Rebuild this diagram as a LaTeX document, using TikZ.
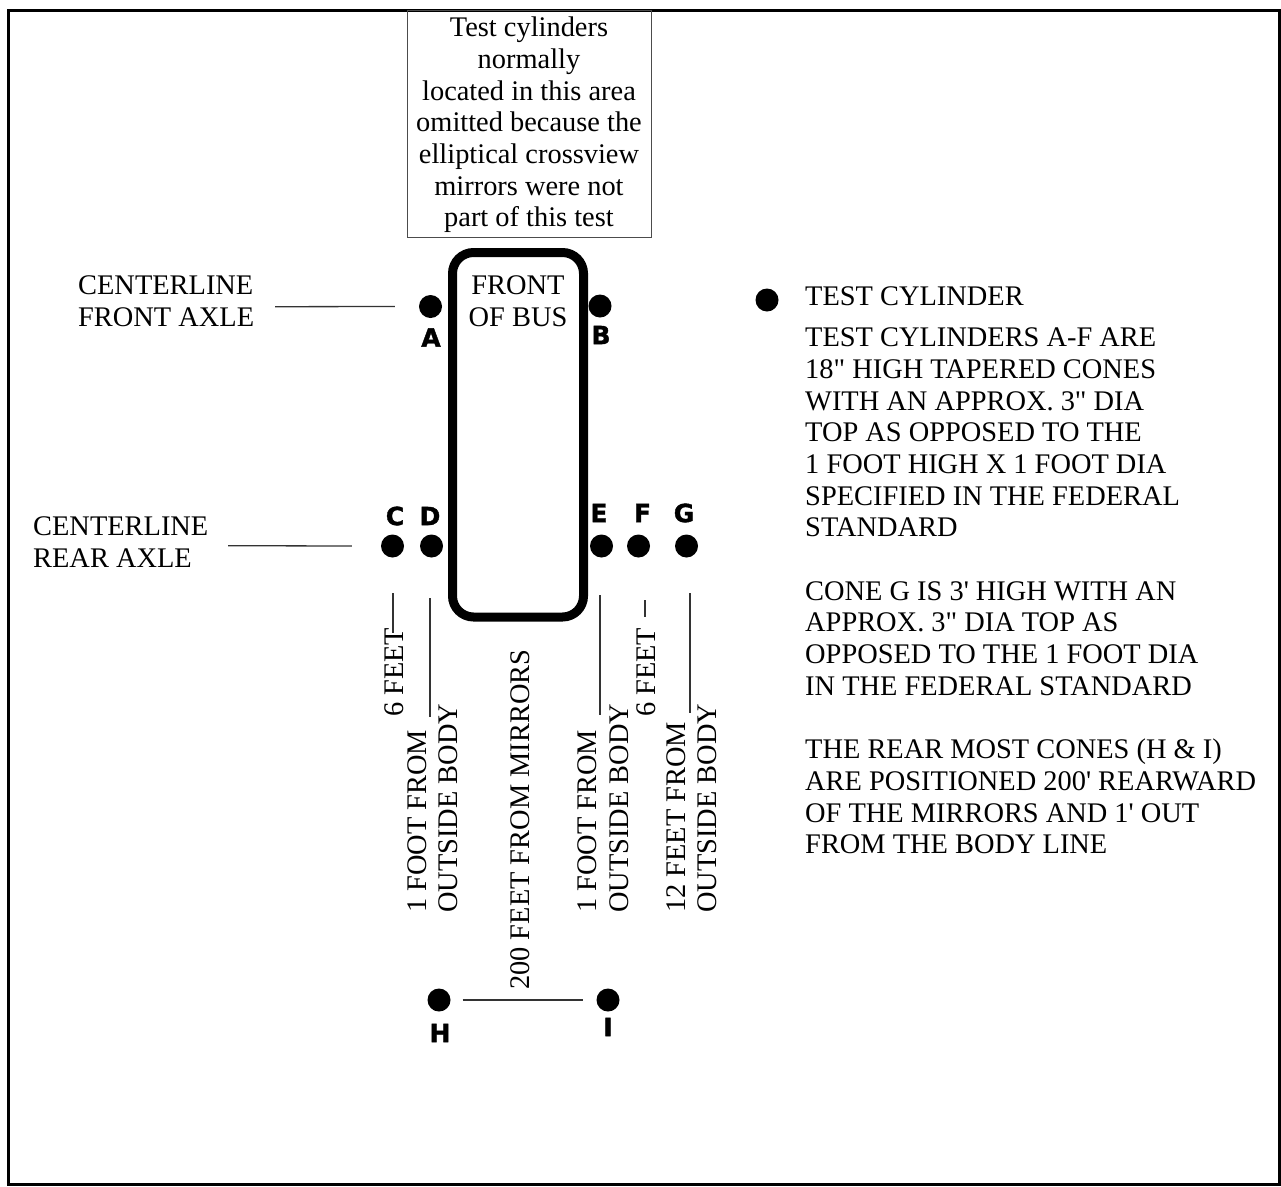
\documentclass[tikz,border=0pt]{standalone}
\usepackage{fontspec}
\setmainfont{Liberation Serif}
\newfontfamily\labfont[BoldFeatures={FakeBold=1.5}]{DejaVu Sans}
\begin{document}
\begin{tikzpicture}[x=1pt,y=-1pt,
  txt/.style={font=\fontsize{28.4}{31.7}\selectfont, inner sep=0pt},
  dot/.style={circle, fill=black, inner sep=0pt, minimum size=23pt},
  lab/.style={font=\labfont\bfseries\fontsize{25}{25}\selectfont, inner sep=0pt},
  thinline/.style={draw=black!80, line width=1.3pt},
  rot/.style={txt, rotate=90, anchor=base west}]
\useasboundingbox (0,0) rectangle (1281,1186);
% outer frame
\draw[line width=3pt] (8.5,10.5) rectangle (1279.5,1184);
% note box
\node[draw=black!70, line width=1pt, minimum width=244pt, minimum height=227pt,
      inner sep=0pt, anchor=north west] (note) at (407,10) {};
\node[txt, align=center] (notetext) at (529,125) {Test cylinders\\normally\\located in this area\\omitted because the\\elliptical crossview\\mirrors were not\\part of this test};
% bus
\node[draw, line width=9pt, rounded corners=21pt, minimum width=131pt,
      minimum height=364.5pt, inner sep=0pt] (bus) at (518,434.75) {};
\node[txt, align=center, anchor=north] (bustext) at (518,275.6) {FRONT\\OF BUS};
% cylinders
\node[dot] (A) at (430.5,306.5) {};
\node[dot] (B) at (600,306) {};
\node[dot] (C) at (392.5,546) {};
\node[dot] (D) at (431.5,546) {};
\node[dot] (E) at (601.5,546) {};
\node[dot] (F) at (638.5,546) {};
\node[dot] (G) at (686.5,546) {};
\node[dot] (H) at (439,1000) {};
\node[dot] (I) at (608,1000) {};
\node[lab] (lA) at (431,337.5) {A};
\node[lab] (lB) at (601,335) {B};
\node[lab] (lC) at (395,516) {C};
\node[lab] (lD) at (430,516) {D};
\node[lab] (lE) at (599,513) {E};
\node[lab] (lF) at (642.5,513) {F};
\node[lab] (lG) at (684,513) {G};
\node[lab] (lH) at (440,1033) {H};
\node[lab] (lI) at (608,1027) {I};
% axle labels
\node[txt, align=left, anchor=north west] (cfa) at (78,275.6) {CENTERLINE\\FRONT AXLE};
\node[txt, align=left, anchor=north west] (cra) at (33,516.6) {CENTERLINE\\REAR AXLE};
\coordinate (fa) at (275,306.7);
\coordinate (ra) at (228,545.7);
\draw[thinline] (fa) -- ([xshift=-24pt]A.west);
\draw[thinline] (ra) -- ([xshift=-29pt]C.west);
% dimension lines
\coordinate (c1) at (393,593); \coordinate (c2) at (393,633);
\coordinate (d1) at (430,598); \coordinate (d2) at (430,717);
\coordinate (e1) at (600,595); \coordinate (e2) at (600,715);
\coordinate (f1) at (645,600); \coordinate (f2) at (645,617);
\coordinate (g1) at (690,593); \coordinate (g2) at (690,713);
\draw[thinline] (c1) -- (c2);
\draw[thinline] (d1) -- (d2);
\draw[thinline] (e1) -- (e2);
\draw[thinline] (f1) -- (f2);
\draw[thinline] (g1) -- (g2);
\draw[thinline] ([xshift=12pt]H.east) -- ([xshift=-13pt]I.west);
% rotated labels
\node[rot] (t6l) at (403,717) {6 FEET};
\node[rot] (t1a) at (426,913) {1 FOOT FROM};
\node[rot] (t1b) at (457,913) {OUTSIDE BODY};
\node[rot] (t200) at (529,990) {200 FEET FROM MIRRORS};
\node[rot] (t1c) at (596,913) {1 FOOT FROM};
\node[rot] (t1d) at (628,913) {OUTSIDE BODY};
\node[rot] (t6r) at (655,717) {6 FEET};
\node[rot] (t12a) at (685,913) {12 FEET FROM};
\node[rot] (t12b) at (716,913) {OUTSIDE BODY};
% legend and notes
\node[dot] (key) at (767,300) {};
\node[txt, anchor=north west] (keytext) at (805,286.6) {TEST CYLINDER};
\node[txt, align=left, anchor=north west] (notes) at (805,327.6) {TEST CYLINDERS A-F ARE\\18\textquotedbl{} HIGH TAPERED CONES\\WITH AN APPROX. 3\textquotedbl{} DIA\\TOP AS OPPOSED TO THE\\1 FOOT HIGH X 1 FOOT DIA\\SPECIFIED IN THE FEDERAL\\STANDARD\\[31.7pt]CONE G IS 3\textquotesingle{} HIGH WITH AN\\APPROX. 3\textquotedbl{} DIA TOP AS\\OPPOSED TO THE 1 FOOT DIA\\IN THE FEDERAL STANDARD\\[31.7pt]THE REAR MOST CONES (H \& I)\\ARE POSITIONED 200\textquotesingle{} REARWARD\\OF THE MIRRORS AND 1\textquotesingle{} OUT\\FROM THE BODY LINE};
\end{tikzpicture}
\end{document}
